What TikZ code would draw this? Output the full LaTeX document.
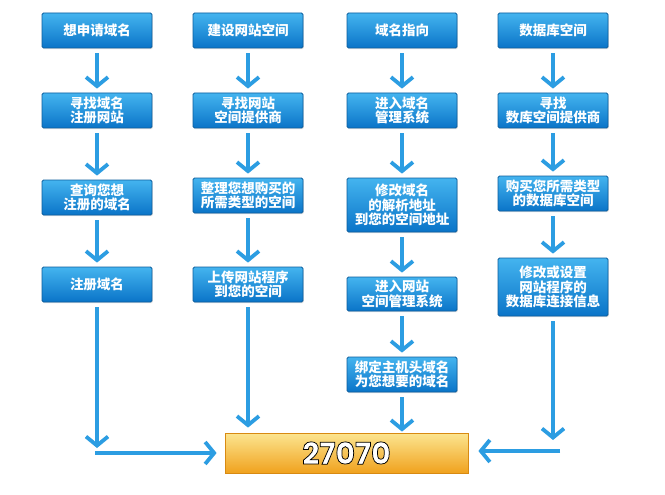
\documentclass[tikz,border=0pt]{standalone}
\usepackage{fontspec}
\newfontfamily\cjk{Noto Sans CJK SC}
\newfontfamily\numfont{Poppins}[FakeBold=2.5]
\usetikzlibrary{arrows.meta,shadows}
\definecolor{boxtop}{HTML}{44B4EF}
\definecolor{boxbot}{HTML}{0A74C8}
\definecolor{boxedge}{HTML}{0C5E9E}
\definecolor{arr}{HTML}{2C9DE2}
\definecolor{goldtop}{HTML}{FCE590}
\definecolor{goldbot}{HTML}{F0A21E}
\definecolor{goldedge}{HTML}{D88A12}
\newcommand{\outlined}[1]{\special{pdf:bcolor [1] [0]}#1\special{pdf:ecolor}}
\begin{document}
\begin{tikzpicture}[x=1pt,y=-1pt,
 bluebox/.style={draw=boxedge, line width=0.8pt, top color=boxtop, bottom color=boxbot,
   rounded corners=1.5pt, minimum width=110pt, inner sep=0pt, text=white, align=center,
   font=\cjk\bfseries\fontsize{13.5}{14.5}\selectfont,
   drop shadow={shadow xshift=0.8pt, shadow yshift=-1.2pt, opacity=0.25}},
 goldbox/.style={draw=goldedge, line width=0.8pt, top color=goldtop, bottom color=goldbot,
   minimum width=243pt, minimum height=40pt, inner sep=0pt, text=white},
 flow/.style={draw=arr, line width=4pt, shorten <=5pt, shorten >=4pt,
   -{Straight Barb[length=9pt,width=22pt,line width=3.8pt]}}
]
\useasboundingbox (0,0) rectangle (665,495);
\fill[white] (0,0) rectangle (665,495);
% column 1
\node[bluebox, minimum height=35pt] (a1) at (97,30.5) {想申请域名};
\node[bluebox, minimum height=35pt] (a2) at (97,110.5) {寻找域名\\注册网站};
\node[bluebox, minimum height=35pt] (a3) at (97,197.5) {查询您想\\注册的域名};
\node[bluebox, minimum height=35pt] (a4) at (97,284.5) {注册域名};
% column 2
\node[bluebox, minimum height=35pt] (b1) at (248,30.5) {建设网站空间};
\node[bluebox, minimum height=35pt] (b2) at (248,110.5) {寻找网站\\空间提供商};
\node[bluebox, minimum height=35pt] (b3) at (248,195.5) {整理您想购买的\\所需类型的空间};
\node[bluebox, minimum height=35pt] (b4) at (248,284.5) {上传网站程序\\到您的空间};
% column 3
\node[bluebox, minimum height=35pt] (c1) at (402,30.5) {域名指向};
\node[bluebox, minimum height=35pt] (c2) at (402,110.5) {进入域名\\管理系统};
\node[bluebox, minimum height=54pt] (c3) at (402,205) {修改域名\\的解析地址\\到您的空间地址};
\node[bluebox, minimum height=34pt] (c4) at (402,294) {进入网站\\空间管理系统};
\node[bluebox, minimum height=35pt] (c5) at (402,374.5) {绑定主机头域名\\为您想要的域名};
% column 4
\node[bluebox, minimum height=35pt] (d1) at (553,30.5) {数据库空间};
\node[bluebox, minimum height=35pt] (d2) at (553,110.5) {寻找\\数库空间提供商};
\node[bluebox, minimum height=35pt] (d3) at (553,193.5) {购买您所需类型\\的数据库空间};
\node[bluebox, minimum height=58pt] (d4) at (553,287) {修改或设置\\网站程序的\\数据库连接信息};
% result
\node[goldbox] (e) at (346.5,453) {\numfont\bfseries\fontsize{30}{30}\selectfont\outlined{27070}};
% arrows
\draw[flow] (a1.south) -- (a2.north);
\draw[flow] (a2.south) -- (a3.north);
\draw[flow] (a3.south) -- (a4.north);
\draw[flow] (b1.south) -- (b2.north);
\draw[flow] (b2.south) -- (b3.north);
\draw[flow] (b3.south) -- (b4.north);
\draw[flow] (c1.south) -- (c2.north);
\draw[flow] (c2.south) -- (c3.north);
\draw[flow] (c3.south) -- (c4.north);
\draw[flow] (c4.south) -- (c5.north);
\draw[flow] (d1.south) -- (d2.north);
\draw[flow] (d2.south) -- (d3.north);
\draw[flow] (d3.south) -- (d4.north);
\coordinate (k1) at (97,448);
\coordinate (h1) at (95,453);
\coordinate (k4) at (553,440);
\coordinate (h4) at (560,451);
\draw[flow, shorten >=0pt] (a4.south) -- (k1);
\draw[flow, shorten <=0pt, shorten >=8pt] (h1) -- (h1 -| e.west);
\draw[flow, shorten >=5pt] (b4.south) -- (b4.south |- e.north);
\draw[flow, shorten >=1pt] (c5.south) -- (c5.south |- e.north);
\draw[flow, shorten >=0pt] (d4.south) -- (k4);
\draw[flow, shorten <=0pt, shorten >=10pt] (h4) -- (h4 -| e.east);
\end{tikzpicture}
\end{document}
